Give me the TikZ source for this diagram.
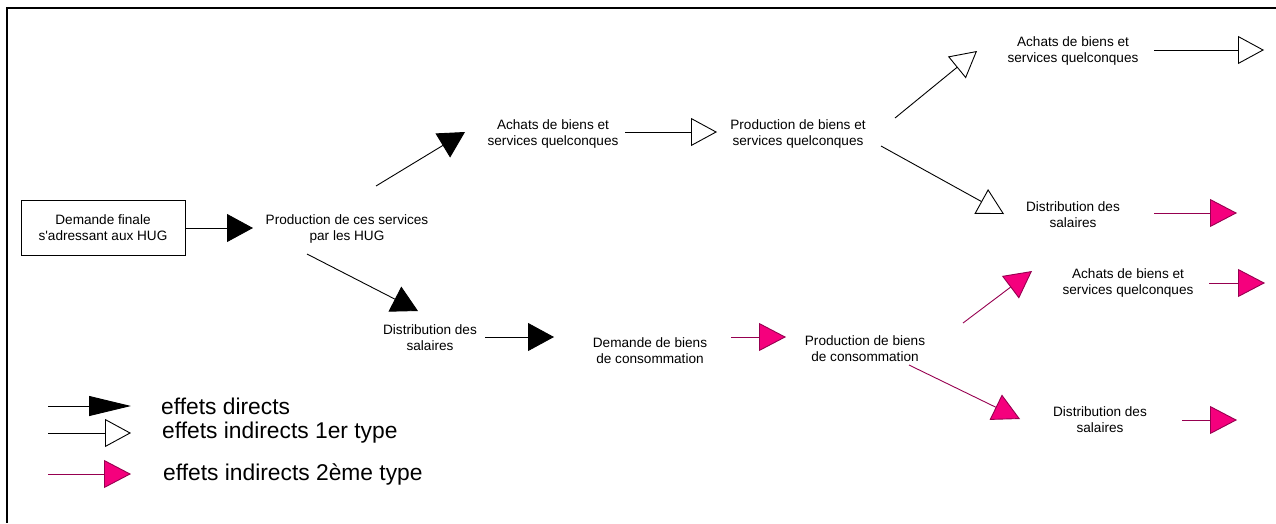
\documentclass[tikz,border=0pt]{standalone}
\usepackage{fontspec}
\setmainfont{Liberation Sans}
\usetikzlibrary{arrows.meta}
\definecolor{mfill}{RGB}{245,0,125}
\definecolor{mline}{RGB}{150,0,80}
\begin{document}
\begin{tikzpicture}[x=1pt,y=-1pt,
  lbl/.style={align=center,font=\fontsize{13.6}{16}\selectfont},
  leg/.style={anchor=west,inner sep=0pt,font=\fontsize{22.8}{26}\selectfont},
  direct/.style={line width=0.9pt,-{Triangle[length=26pt,width=28pt]}},
  indir/.style={line width=0.9pt,-{Triangle[open,length=26pt,width=28pt]}},
  second/.style={line width=0.9pt,mline,-{Triangle[length=27pt,width=28pt,fill=mfill]}}]
\useasboundingbox (0,0) rectangle (1276,523);
\draw[line width=1.2pt] (1276,8) -- (7,8) -- (7,523);
\node(box) at (103,228)[draw,line width=0.9pt,minimum width=164pt,minimum height=55pt,lbl] {Demande finale\\s\textquotesingle adressant aux HUG};
\node(prodhug) at (347,229)[lbl] {Production de ces services\\par les HUG};
\node(achat1) at (553,134)[lbl]  {Achats de biens et\\services quelconques};
\node(prodbs) at (798,134)[lbl]  {Production de biens et\\services quelconques};
\node(achat2) at (1073,51)[lbl]  {Achats de biens et\\services quelconques};
\node(distr1) at (1073,215)[lbl] {Distribution des\\salaires};
\node(distr2) at (430,338)[lbl]  {Distribution des\\salaires};
\node(demc) at (650,351)[lbl]    {Demande de biens\\de consommation};
\node(prodc) at (865,349)[lbl]   {Production de biens\\de consommation};
\node(achat3) at (1128,283)[lbl] {Achats de biens et\\services quelconques};
\node(distr3) at (1100,420)[lbl] {Distribution des\\salaires};
% arrow ends
\coordinate(d1) at (253,228);
\coordinate(d2s) at (376,186);  \coordinate(d2) at (465,132);
\coordinate(d3s) at (307,254);  \coordinate(d3) at (418,311);
\coordinate(d4s) at (485,337);  \coordinate(d4) at (554,337);
\coordinate(i1s) at (625,132);  \coordinate(i1) at (717,132);
\coordinate(i2s) at (895,118);  \coordinate(i2) at (977,51);
\coordinate(i3s) at (881,146);  \coordinate(i3) at (1004,214);
\coordinate(i4s) at (1154,50);  \coordinate(i4) at (1264,50);
\coordinate(m1s) at (1154,213); \coordinate(m1) at (1237,213);
\coordinate(m2s) at (731,337);  \coordinate(m2) at (786,337);
\coordinate(m3s) at (963,323);  \coordinate(m3) at (1032,271);
\coordinate(m4s) at (909,365);  \coordinate(m4) at (1020,419);
\coordinate(m5s) at (1209,283); \coordinate(m5) at (1265,283);
\coordinate(m6s) at (1182,420); \coordinate(m6) at (1237,420);
\path [direct]
  (box.east) edge (d1)
  (d2s)      edge (d2)
  (d3s)      edge (d3)
  (d4s)      edge (d4);
\path [indir]
  (i1s)      edge (i1)
  (i2s)      edge (i2)
  (i3s)      edge (i3)
  (i4s)      edge (i4);
\path [second]
  (m1s)      edge (m1)
  (m2s)      edge (m2)
  (m3s)      edge (m3)
  (m4s)      edge (m4)
  (m5s)      edge (m5)
  (m6s)      edge (m6);
% legend
\coordinate(l1s) at (48,406); \coordinate(l1) at (131,406);
\coordinate(l2s) at (48,433); \coordinate(l2) at (131,433);
\coordinate(l3s) at (48,474); \coordinate(l3) at (131,474);
\draw[line width=0.9pt,-{Triangle[length=42pt,width=20pt]}] (l1s) -- (l1);
\draw[indir] (l2s) -- (l2);
\draw[second] (l3s) -- (l3);
\node(leg1) at (161,406)[leg] {effets directs};
\node(leg2) at (162,433)[leg] {effets indirects 1er type};
\node(leg3) at (163,474)[leg] {effets indirects 2ème type};
\end{tikzpicture}
\end{document}
